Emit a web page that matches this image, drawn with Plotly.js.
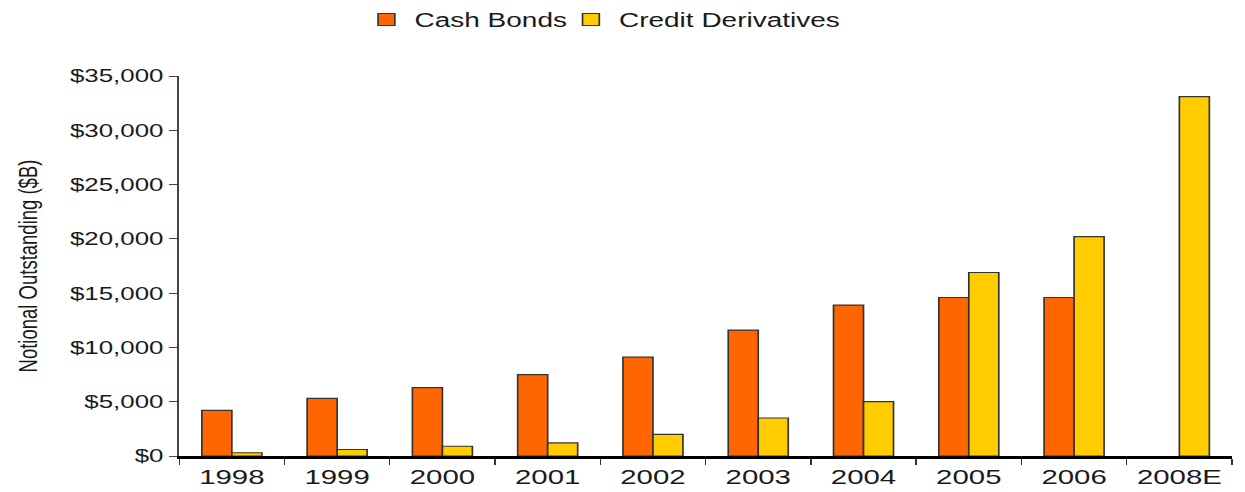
<!DOCTYPE html>
<html>
<head>
<meta charset="utf-8">
<script src="https://cdn.plot.ly/plotly-3.0.1.min.js"></script>
<style>
  html, body { margin: 0; padding: 0; background: #fff; overflow: hidden; }
  #chart { width: 889px; height: 492px; transform: scaleX(1.4); transform-origin: 0 0; }
</style>
</head>
<body>
<div id="chart"></div>
<script>
const years = ["1998", "1999", "2000", "2001", "2002", "2003", "2004", "2005", "2006", "2008E"];
const cashBonds = [4200, 5300, 6300, 7500, 9100, 11600, 13900, 14600, 14600, null];
const creditDerivatives = [300, 600, 900, 1200, 2000, 3500, 5000, 16900, 20200, 33100];
const seriesNames = ["Cash Bonds", "Credit Derivatives"];
const yTickVals = [0, 5000, 10000, 15000, 20000, 25000, 30000, 35000];
const yTickText = yTickVals.map(v => '$' + v.toLocaleString('en-US'));

const FONT = '"Liberation Sans", Arial, sans-serif';
const TXT = '#1a1a1a';

const traces = [
  {
    type: 'bar', name: seriesNames[0], x: years, y: cashBonds, legend: 'legend',
    marker: { color: '#FF6600', line: { color: '#333333', width: 1.2 } }
  },
  {
    type: 'bar', name: seriesNames[1], x: years, y: creditDerivatives, legend: 'legend2',
    marker: { color: '#FFCC00', line: { color: '#333333', width: 1.2 } }
  }
];

const legendBase = {
  orientation: 'h', xref: 'container', yref: 'container',
  xanchor: 'left', y: 1, yanchor: 'top',
  font: { family: FONT, size: 20, color: TXT },
  bgcolor: 'rgba(0,0,0,0)'
};

const layout = {
  width: 889, height: 492,
  margin: { l: 128, r: 9, t: 76, b: 36 },
  paper_bgcolor: '#ffffff', plot_bgcolor: '#ffffff',
  font: { family: FONT, color: TXT },
  barmode: 'group', bargap: 0.43, bargroupgap: 0,
  showlegend: true,
  legend: Object.assign({}, legendBase, { x: 0.288 }),
  legend2: Object.assign({}, legendBase, { x: 0.4523 }),
  xaxis: {
    type: 'category', showgrid: false, zeroline: false,
    showline: true, linecolor: '#000000', linewidth: 3,
    ticks: 'outside', tickson: 'boundaries', ticklen: 6, tickwidth: 1, tickcolor: '#333333',
    tickfont: { family: FONT, size: 21, color: TXT }
  },
  yaxis: {
    range: [0, 35000], tickmode: 'array', tickvals: yTickVals, ticktext: yTickText,
    showgrid: false, zeroline: false,
    showline: true, linecolor: '#444444', linewidth: 1.5,
    ticks: 'outside', ticklen: 6, tickwidth: 1, tickcolor: '#444444',
    tickfont: { family: FONT, size: 18.5, color: TXT },
    automargin: true,
    title: { text: 'Notional Outstanding ($B)', standoff: 18, font: { family: FONT, size: 18.5, color: TXT } }
  }
};

Plotly.newPlot('chart', traces, layout, { staticPlot: true, displayModeBar: false });
</script>
</body>
</html>
